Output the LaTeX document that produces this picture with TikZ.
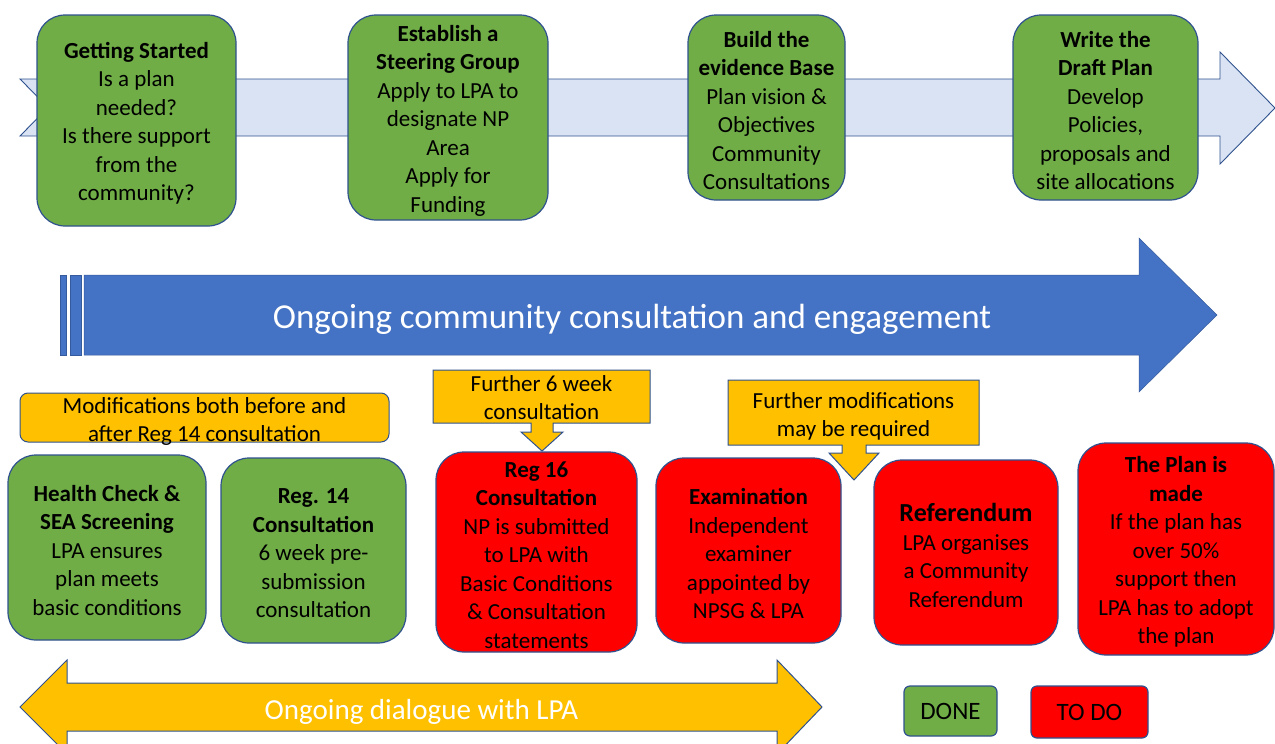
\documentclass[tikz,border=0pt]{standalone}
\usepackage{fontspec}
\setmainfont{Carlito}
\usetikzlibrary{calc}
\definecolor{ggreen}{HTML}{70AD47}
\definecolor{rred}{HTML}{FF0000}
\definecolor{yell}{HTML}{FFC000}
\definecolor{bblue}{HTML}{4472C4}
\definecolor{lblue}{HTML}{DAE3F3}
\definecolor{bordc}{HTML}{2F528F}
\begin{document}
\begin{tikzpicture}[x=1pt,y=-1pt,
  stage/.style={draw=bordc, line width=1.2pt, rounded corners=28pt, inner sep=0pt,
    label={[stagetext]center:{#1}}},
  stagetext/.style={align=center, inner sep=0pt, font=\fontsize{23}{28.5}\selectfont,
    text=black, yshift=-3pt},
  donebox/.style={stage={#1}, fill=ggreen},
  todobox/.style={stage={#1}, fill=rred},
  notetext/.style={align=center, inner sep=0pt, font=\fontsize{23}{28}\selectfont, text=black},
  yellshape/.style={fill=yell, draw=bordc, line width=1pt, line join=miter},
  keybox/.style={draw=bordc, line width=1.2pt, rounded corners=6pt, inner sep=0pt,
    font=\fontsize{25}{30}\selectfont, text=black},
  arrowtext/.style={text=white, inner sep=0pt}
]
\useasboundingbox (0,0) rectangle (1275,744);
\begin{scope}
\clip (0,0) rectangle (1275,744);

% top light band arrow
\filldraw[fill=lblue, draw=bordc, line width=0.9pt]
  (20,79) -- (1220,79) -- (1220,52) -- (1275,108) -- (1220,164) -- (1220,136)
  -- (20,136) -- (48,107.5) -- cycle;

% top stages
\node[donebox={\textbf{Getting Started}\\Is a plan\\needed?\\Is there support\\from the\\community?},
  minimum width=199pt, minimum height=211pt] (gs) at (136.5,120.5) {};
\node[donebox={\textbf{Establish a}\\\textbf{Steering Group}\\Apply to LPA to\\designate NP\\Area\\Apply for\\Funding},
  minimum width=200pt, minimum height=205pt] (esg) at (448,117.5) {};
\node[donebox={\textbf{Build the}\\\textbf{evidence Base}\\Plan vision \&\\Objectives\\Community\\Consultations},
  minimum width=157pt, minimum height=185pt] (ev) at (766.5,107.5) {};
\node[donebox={\textbf{Write the}\\\textbf{Draft Plan}\\Develop\\Policies,\\proposals and\\site allocations},
  minimum width=185pt, minimum height=185pt] (dp) at (1105.5,107.5) {};

% big blue arrow
\fill[bblue, draw=bblue!80!black, line width=0.5pt] (60,275) rectangle (66,355);
\fill[bblue, draw=bblue!80!black, line width=0.5pt] (70,275) rectangle (81,355);
\filldraw[fill=bblue, draw=bblue!80!black, line width=0.5pt]
  (84,275) -- (1139,275) -- (1139,238) -- (1217,315) -- (1139,392) -- (1139,355)
  -- (84,355) -- cycle;
\node[arrowtext, font=\fontsize{35}{40}\selectfont] (occ) at (632,319)
  {Ongoing community consultation and engagement};

% modifications note
\node[yellshape, rounded corners=8pt, minimum width=369pt, minimum height=49pt,
  label={[notetext, yshift=-4pt]center:{Modifications both before and\\after Reg 14 consultation}}]
  (mod) at (204.5,417.5) {};

% callout 1
\filldraw[yellshape] (433,370) -- (650,370) -- (650,423) -- (553,423) -- (553,432)
  -- (563,432) -- (542,451) -- (521,432) -- (531,432) -- (531,423) -- (433,423) -- cycle;
\node[notetext] (c1) at (541.5,397.5) {Further 6 week\\consultation};

% callout 2
\filldraw[yellshape] (728,380) -- (979,380) -- (979,445) -- (866,445) -- (866,453)
  -- (879,453) -- (854,480) -- (829,453) -- (842,453) -- (842,445) -- (728,445) -- cycle;
\node[notetext] (c2) at (853.5,416) {Further modifications\\may be required};

% lower stages
\node[donebox={\textbf{Health Check \&}\\\textbf{SEA Screening}\\LPA ensures\\plan meets\\basic conditions},
  minimum width=198pt, minimum height=185pt] (hc) at (107,547.5) {};
\node[donebox={\textbf{Reg. 14}\\\textbf{Consultation}\\6 week pre-\\submission\\consultation},
  minimum width=185pt, minimum height=185pt] (r14) at (313.5,550.5) {};
\node[todobox={\textbf{Reg 16}\\\textbf{Consultation}\\NP is submitted\\to LPA with\\Basic Conditions\\\& Consultation\\statements},
  minimum width=201pt, minimum height=200pt] (r16) at (536.5,552) {};
\node[todobox={\textbf{Examination}\\Independent\\examiner\\appointed by\\NPSG \& LPA},
  minimum width=185pt, minimum height=185pt] (ex) at (748.5,550.5) {};
\node[todobox={{\fontsize{26}{30}\selectfont\textbf{Referendum}}\\LPA organises\\a Community\\Referendum},
  minimum width=184pt, minimum height=185pt] (ref) at (966,552.5) {};
\node[todobox={\textbf{The Plan is}\\\textbf{made}\\If the plan has\\over 50\%\\support then\\LPA has to adopt\\the plan},
  minimum width=196pt, minimum height=212pt] (made) at (1176,549) {};

% bottom yellow double arrow
\filldraw[fill=yell, draw=bordc, line width=1pt]
  (20,707) -- (67,660) -- (67,683) -- (777,683) -- (777,660) -- (822,707)
  -- (777,754) -- (777,731) -- (67,731) -- (67,754) -- cycle;
\node[arrowtext, font=\fontsize{29}{34}\selectfont] (odl) at (421.5,712)
  {Ongoing dialogue with LPA};

% key
\node[keybox, fill=ggreen, minimum width=93pt, minimum height=50pt] (kdone) at (950.5,711) {DONE};
\node[keybox, fill=rred, minimum width=117pt, minimum height=52pt] (ktodo) at (1089.5,712) {TO DO};
\end{scope}
\end{tikzpicture}
\end{document}
